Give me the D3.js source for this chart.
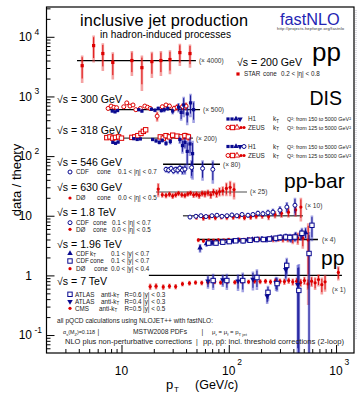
<!DOCTYPE html>
<html><head><meta charset="utf-8">
<script src="https://cdn.jsdelivr.net/npm/d3@7"></script>
<style>
body{margin:0;background:#fff}
svg{display:block}
text{font-family:"Liberation Sans",Arial,Helvetica,sans-serif;fill:#000}
</style>
</head><body>
<svg id="c" width="357" height="395"></svg>
<script>
// ---------------- data ----------------
const xMajor = [10, 100, 1000];
const xMajorExp = ["", "2", "3"];
const yMajor = [0.1, 1, 10, 100, 1000, 10000];
const yMajorExp = ["-1", "", "", "2", "3", "4"];

// reference lines (scale factors)
const lineLabels = ["(\u00d7 4000)", "(\u00d7 500)", "(\u00d7 200)", "(\u00d7 80)", "(\u00d7 25)", "(\u00d7 10)", "(\u00d7 4)", "(\u00d7 1)"];
const lineLevels = [4000, 600, 200, 73, 25, 10, 4, 1];
const lineFrom = [3.85, 7.33, 7.17, 24.4, 21, 37.4, 51.7, 18];
const lineTo = [49.4, 54, 46.4, 82.8, 148, 491, 678, 1135];
const lineLabelPt = [52.7, 57.5, 49.4, 88.3, 157.6, 513, 739, 916];
const lineLabelVal = [4000, 600, 200, 73, 25, 14.6, 4, 0.57];
const lineColors = ["#000", "#000", "#444", "#000", "#888", "#555", "#000", "#000"];

// STAR 200 GeV
const star_pt = [4.3, 5.5, 6.7, 8.3, 12.5, 15.5, 19.2, 23.3, 28.3, 35, 43.5];
const star_r  = [0.82, 1.78, 1.31, 0.93, 1.0, 0.76, 0.96, 1.0, 1.04, 1.36, 1.31];
const star_e  = [0.4, 0.85, 0.64, 0.45, 0.45, 0.45, 0.45, 0.45, 0.45, 0.55, 0.55];

// DIS 300 GeV
const dis300h1_pt = [8.2, 8.7, 9.2, 14.5, 15.5, 19, 20.5, 22, 23.5, 25, 27, 30, 34, 36, 38, 41, 44, 47];
const dis300h1_r  = [0.95, 0.92, 0.97, 1.0, 0.95, 1.02, 0.98, 1.05, 0.97, 1.0, 1.05, 0.95, 1.1, 0.9, 1.2, 0.85, 1.3, 1.0];
const dis300h1_e  = [0.05, 0.05, 0.06, 0.06, 0.06, 0.07, 0.07, 0.08, 0.08, 0.1, 0.1, 0.12, 0.2, 0.25, 0.45, 0.3, 0.55, 0.4];
const dis300zeus_pt = [7.5, 8.0, 8.5, 9.0, 10.5, 11.2, 12, 12.8, 13.6, 15, 16.5, 17.5, 18.5, 21.5, 24, 26, 28, 31, 33, 37, 40];
const dis300zeus_r  = [1.05, 1.15, 1.1, 1.08, 1.12, 1.3, 1.15, 1.2, 1.0, 1.05, 1.15, 1.1, 1.05, 0.78, 1.12, 1.2, 1.15, 1.05, 1.1, 1.12, 1.15];
const dis300zeus_e  = [0.06, 0.06, 0.06, 0.06, 0.07, 0.07, 0.07, 0.07, 0.08, 0.08, 0.08, 0.09, 0.09, 0.15, 0.1, 0.1, 0.12, 0.12, 0.14, 0.15, 0.18];

// DIS 318 GeV
const dis318h1_pt = [8.3, 8.8, 9.3, 13, 14, 15, 19.5, 21, 22.5, 24, 26, 28.5, 35, 37, 39, 41, 43.5, 46];
const dis318h1_r  = [0.85, 0.82, 0.86, 0.98, 0.95, 0.97, 0.95, 0.9, 0.85, 0.92, 0.82, 0.88, 0.95, 0.75, 0.85, 0.6, 0.8, 0.55];
const dis318h1_e  = [0.04, 0.04, 0.05, 0.05, 0.05, 0.05, 0.06, 0.06, 0.07, 0.08, 0.08, 0.1, 0.15, 0.2, 0.2, 0.3, 0.3, 0.35];
const dis318zeus_pt = [7.3, 7.8, 8.3, 8.8, 9.4, 10, 12.5, 13.3, 14.2, 15.2, 16, 16.8, 23, 24.5, 26, 28, 30, 33, 36, 39, 42];
const dis318zeus_r  = [1.02, 1.05, 1.0, 1.03, 1.05, 1.0, 1.03, 1.05, 1.1, 1.2, 1.3, 1.38, 1.05, 1.0, 1.1, 1.05, 1.12, 1.08, 1.05, 1.1, 1.05];
const dis318zeus_e  = [0.04, 0.04, 0.04, 0.04, 0.05, 0.05, 0.05, 0.05, 0.06, 0.06, 0.07, 0.07, 0.07, 0.08, 0.08, 0.09, 0.1, 0.1, 0.12, 0.14, 0.16];

// CDF 546 GeV
const cdf546_pt = [26, 27.5, 29, 30.5, 32, 33.5, 35, 37, 39, 45, 57, 71];
const cdf546_r  = [0.82, 0.8, 0.85, 0.78, 0.82, 0.8, 0.86, 0.8, 0.83, 0.88, 0.85, 0.82];
const cdf546_e  = [0.1, 0.1, 0.1, 0.1, 0.1, 0.12, 0.12, 0.14, 0.16, 0.3, 0.32, 0.35];

// D0 630 GeV
const d0630_pt = [22, 24, 26, 28, 30, 32, 34, 36.5, 39, 41.5, 44, 47, 50, 53, 56.5, 60, 64, 68, 72, 77, 82, 88, 95, 103, 112];
const d0630_r  = [1.12, 0.9, 0.88, 0.92, 0.86, 0.9, 0.95, 0.9, 0.88, 0.93, 0.96, 0.9, 0.92, 0.88, 0.95, 0.93, 0.97, 0.9, 1.0, 0.95, 1.02, 1.05, 1.15, 1.2, 1.1];
const d0630_e  = [0.3, 0.1, 0.1, 0.1, 0.1, 0.1, 0.1, 0.1, 0.1, 0.1, 0.1, 0.11, 0.11, 0.12, 0.12, 0.13, 0.13, 0.14, 0.15, 0.16, 0.18, 0.2, 0.3, 0.35, 0.35];

// 1.8 TeV
const cdf18_pt = [43.5, 49.4, 55, 61.3, 69.7, 77.6, 86.4, 96.2, 107, 119, 133, 151, 168, 187, 208, 232, 258, 300, 348, 414];
const cdf18_r  = [0.95, 0.98, 1.0, 0.97, 1.0, 1.02, 0.98, 1.0, 1.03, 1.0, 1.05, 1.02, 1.05, 1.1, 1.08, 1.12, 1.15, 1.24, 1.4, 1.5];
const cdf18_e  = [0.08, 0.08, 0.08, 0.08, 0.08, 0.08, 0.08, 0.08, 0.09, 0.09, 0.1, 0.1, 0.11, 0.12, 0.13, 0.15, 0.17, 0.22, 0.3, 0.5];
const d018_pt = [50, 58, 66, 75, 85, 96, 110, 125, 140, 160, 180, 205, 235, 270, 310, 360, 420, 470];
const d018_r  = [0.95, 0.92, 0.95, 0.93, 0.96, 0.94, 0.95, 0.97, 0.93, 0.95, 0.98, 1.0, 0.97, 1.05, 1.1, 1.15, 1.25, 1.4];
const d018_e  = [0.1, 0.1, 0.1, 0.1, 0.1, 0.1, 0.1, 0.1, 0.1, 0.1, 0.11, 0.12, 0.13, 0.15, 0.18, 0.22, 0.3, 0.6];

// 1.96 TeV
const cdfkt_pt = [54, 62, 70, 78, 88, 98, 110, 122, 136, 150, 166, 184, 204, 226, 250, 276, 305, 340, 380, 420, 470, 520];
const cdfkt_r  = [0.72, 0.85, 0.88, 0.9, 0.92, 0.93, 0.95, 0.97, 0.95, 0.98, 1.0, 1.0, 1.02, 1.0, 1.05, 1.03, 1.08, 1.1, 1.05, 1.15, 1.2, 1.3];
const cdfkt_e  = [0.12, 0.1, 0.1, 0.1, 0.1, 0.1, 0.1, 0.1, 0.1, 0.1, 0.1, 0.11, 0.11, 0.12, 0.12, 0.13, 0.14, 0.16, 0.18, 0.2, 0.25, 0.3];
const cdfcone_pt = [65, 76, 88, 101, 116, 136, 158, 182, 210, 240, 275, 300, 340, 371, 414, 481, 596];
const cdfcone_r  = [0.87, 0.87, 0.9, 0.92, 0.95, 0.95, 0.97, 1.0, 1.0, 1.02, 1.05, 1.08, 1.1, 1.08, 1.1, 1.27, 1.73];
const cdfcone_e  = [0.08, 0.08, 0.08, 0.08, 0.08, 0.09, 0.09, 0.1, 0.1, 0.11, 0.12, 0.13, 0.15, 0.17, 0.2, 0.3, 0.8];
const d0196_pt = [52, 58, 65, 72, 80, 90, 100, 112, 125, 140, 155, 172, 190, 210, 235, 260, 290, 320, 355, 395, 440, 490, 550];
const d0196_r  = [0.98, 0.95, 0.97, 0.96, 0.98, 0.97, 0.99, 0.98, 1.0, 0.99, 1.01, 1.0, 1.02, 1.0, 1.03, 1.01, 1.04, 1.02, 1.05, 1.03, 1.06, 1.05, 0.98];
const d0196_e  = [0.08, 0.08, 0.08, 0.08, 0.08, 0.08, 0.08, 0.08, 0.08, 0.08, 0.09, 0.09, 0.1, 0.1, 0.11, 0.12, 0.13, 0.14, 0.16, 0.2, 0.25, 0.35, 0.9];

// 7 TeV
const cms_pt = [18.5, 21, 24.5, 28, 32, 37, 43, 49, 56, 64, 74, 84, 97, 114, 133, 153, 174, 196, 220, 245, 272, 300, 330, 362, 395, 430, 468, 507, 548, 592, 638, 686, 737, 790, 1050];
const cms_r  = [0.65, 0.66, 0.64, 0.66, 0.65, 0.72, 0.74, 0.76, 0.75, 0.77, 0.78, 0.76, 0.78, 0.77, 0.79, 0.78, 0.8, 0.79, 0.8, 0.78, 0.81, 0.8, 0.79, 0.82, 0.78, 0.8, 0.76, 0.82, 0.72, 0.8, 0.75, 0.85, 0.7, 0.78, 1.12];
const cms_e  = [0.08, 0.08, 0.07, 0.07, 0.07, 0.07, 0.07, 0.07, 0.07, 0.07, 0.07, 0.07, 0.07, 0.07, 0.07, 0.07, 0.08, 0.08, 0.08, 0.08, 0.09, 0.09, 0.1, 0.1, 0.11, 0.12, 0.12, 0.13, 0.15, 0.16, 0.18, 0.2, 0.22, 0.25, 0.3];
const atlas6_pt = [71.5, 96, 135, 183, 232, 282, 347, 450, 560];
const atlas6_r  = [0.82, 0.82, 0.82, 0.92, 0.52, 0.73, 1.47, 0.56, 2.33];
const atlas6_e  = [0.25, 0.25, 0.3, 0.35, 0.15, 0.2, 0.5, 1.0, 3.0];
const atlas4_pt = [64, 88, 122, 168, 228, 276, 340, 440];
const atlas4_r  = [0.8, 0.84, 0.8, 0.86, 0.45, 0.75, 1.25, 0.7];
const atlas4_e  = [0.2, 0.2, 0.25, 0.3, 0.12, 0.2, 0.45, 0.8];

// ---------------- drawing ----------------
const W = 357, H = 395;
const L = 46.5, R = 354, T = 7, B = 353;
const x = d3.scaleLog().domain([2, 1470]).range([L, R]);
const y = d3.scaleLog().domain([0.05, 31600]).range([B, T]);

const red = "#dd0000", lred = "rgba(235,70,70,0.5)";
const blue = "#0a0a90", lblue = "rgba(70,70,200,0.5)";
const txtc = "#222";

const svg = d3.select("#c");
svg.append("rect").attr("width", W).attr("height", H).attr("fill", "#fff");
svg.append("defs").append("clipPath").attr("id", "clip")
  .append("rect").attr("x", L).attr("y", T).attr("width", R - L).attr("height", B - T);

// faint right-edge artifact line
svg.append("line").attr("x1", 356).attr("x2", 356).attr("y1", 10).attr("y2", 340)
  .attr("stroke", "#aab").attr("stroke-width", 0.8).attr("stroke-dasharray", "1,1");

const plot = svg.append("g").attr("clip-path", "url(#clip)");

// reference lines
lineLevels.forEach((lv, i) => {
  plot.append("line")
    .attr("x1", x(lineFrom[i])).attr("x2", x(lineTo[i]))
    .attr("y1", y(lv)).attr("y2", y(lv))
    .attr("stroke", lineColors[i]).attr("stroke-width", 1.3);
  svg.append("text").attr("x", x(lineLabelPt[i])).attr("y", y(lineLabelVal[i]) + 2.4)
    .attr("font-size", 6.6).style("fill", "#333").text(lineLabels[i]);
});

const series = [
  {pt: star_pt, r: star_r, e: star_e, lv: 4000, c: red, lc: lred, m: "fsq"},
  {pt: dis300zeus_pt, r: dis300zeus_r, e: dis300zeus_e, lv: 600, c: red, lc: lred, m: "circ"},
  {pt: dis300h1_pt, r: dis300h1_r, e: dis300h1_e, lv: 600, c: blue, lc: lblue, m: "fsq"},
  {pt: dis318zeus_pt, r: dis318zeus_r, e: dis318zeus_e, lv: 200, c: red, lc: lred, m: "sq"},
  {pt: dis318h1_pt, r: dis318h1_r, e: dis318h1_e, lv: 200, c: blue, lc: lblue, m: "fsq"},
  {pt: cdf546_pt, r: cdf546_r, e: cdf546_e, lv: 73, c: blue, lc: lblue, m: "circ"},
  {pt: d0630_pt, r: d0630_r, e: d0630_e, lv: 25, c: red, lc: lred, m: "dot"},
  {pt: d018_pt, r: d018_r, e: d018_e, lv: 10, c: red, lc: lred, m: "dot"},
  {pt: cdf18_pt, r: cdf18_r, e: cdf18_e, lv: 10, c: blue, lc: lblue, m: "circ"},
  {pt: d0196_pt, r: d0196_r, e: d0196_e, lv: 4, c: red, lc: lred, m: "dot"},
  {pt: cdfkt_pt, r: cdfkt_r, e: cdfkt_e, lv: 4, c: blue, lc: lblue, m: "tri"},
  {pt: cdfcone_pt, r: cdfcone_r, e: cdfcone_e, lv: 4, c: blue, lc: lblue, m: "sq"},
  {pt: cms_pt, r: cms_r, e: cms_e, lv: 1, c: red, lc: lred, m: "dot"},
  {pt: atlas4_pt, r: atlas4_r, e: atlas4_e, lv: 1, c: blue, lc: lblue, m: "trid"},
  {pt: atlas6_pt, r: atlas6_r, e: atlas6_e, lv: 1, c: blue, lc: lblue, m: "sq"}
];

function drawMarker(g, m, cx, cy, c) {
  if (m === "dot") g.append("circle").attr("cx", cx).attr("cy", cy).attr("r", 1.6).attr("fill", c);
  else if (m === "circ") g.append("circle").attr("cx", cx).attr("cy", cy).attr("r", 2).attr("fill", "#fff").attr("stroke", c).attr("stroke-width", 1);
  else if (m === "sq") g.append("rect").attr("x", cx - 2.2).attr("y", cy - 2.2).attr("width", 4.4).attr("height", 4.4).attr("fill", "#fff").attr("stroke", c).attr("stroke-width", 1);
  else if (m === "fsq") g.append("rect").attr("x", cx - 1.6).attr("y", cy - 1.6).attr("width", 3.2).attr("height", 3.2).attr("fill", c);
  else if (m === "tri") g.append("path").attr("transform", `translate(${cx},${cy})`).attr("d", d3.symbol(d3.symbolTriangle, 13)()).attr("fill", c);
  else if (m === "trid") g.append("path").attr("transform", `translate(${cx},${cy}) rotate(180)`).attr("d", d3.symbol(d3.symbolTriangle, 13)()).attr("fill", c);
  else if (m === "otri") g.append("path").attr("transform", `translate(${cx},${cy})`).attr("d", d3.symbol(d3.symbolTriangle, 13)()).attr("fill", "#fff").attr("stroke", c).attr("stroke-width", 0.9);
}

const yv = v => v <= 0 ? B + 20 : y(v);
series.forEach(s => {
  s.pt.forEach((p, i) => {
    plot.append("line").attr("x1", x(p)).attr("x2", x(p))
      .attr("y1", yv(s.lv * (s.r[i] - s.e[i]))).attr("y2", yv(s.lv * (s.r[i] + s.e[i])))
      .attr("stroke", s.lc).attr("stroke-width", 2.6);
  });
});
series.forEach(s => {
  s.pt.forEach((p, i) => {
    plot.append("line").attr("x1", x(p)).attr("x2", x(p))
      .attr("y1", yv(s.lv * (s.r[i] - s.e[i] * 0.8))).attr("y2", yv(s.lv * (s.r[i] + s.e[i] * 0.8)))
      .attr("stroke", s.c).attr("stroke-width", 0.9);
  });
  s.pt.forEach((p, i) => drawMarker(plot, s.m, x(p), y(s.lv * s.r[i]), s.c));
});

// axes
const xMinor = [3,4,5,6,7,8,9,20,30,40,50,60,70,80,90,200,300,400,500,600,700,800,900];
const yMinor = [0.06,0.07,0.08,0.09,0.2,0.3,0.4,0.5,0.6,0.7,0.8,0.9,2,3,4,5,6,7,8,9,20,30,40,50,60,70,80,90,200,300,400,500,600,700,800,900,2000,3000,4000,5000,6000,7000,8000,9000,20000,30000];
function styleAxis(g) { g.select(".domain").remove(); g.selectAll("line").attr("stroke", "#000").attr("stroke-width", 1); }
svg.append("g").attr("transform", `translate(${L},0)`).call(d3.axisLeft(y).tickValues(yMajor).tickSize(-8).tickFormat("")).call(styleAxis);
svg.append("g").attr("transform", `translate(${L},0)`).call(d3.axisLeft(y).tickValues(yMinor).tickSize(-4).tickFormat("")).call(styleAxis);
svg.append("g").attr("transform", `translate(0,${B})`).call(d3.axisBottom(x).tickValues(xMajor).tickSize(-8).tickFormat("")).call(styleAxis);
svg.append("g").attr("transform", `translate(0,${B})`).call(d3.axisBottom(x).tickValues(xMinor).tickSize(-4).tickFormat("")).call(styleAxis);
svg.append("rect").attr("x", L).attr("y", T).attr("width", R - L).attr("height", B - T)
  .attr("fill", "none").attr("stroke", "#000").attr("stroke-width", 1.2);

// tick labels
yMajor.forEach((v, i) => {
  svg.append("text").attr("x", 32).attr("y", y(v) + 4.3).attr("font-size", 12).attr("text-anchor", "end")
    .text(v === 1 ? "1" : "10");
  if (yMajorExp[i]) svg.append("text").attr("x", 34.5).attr("y", y(v) - 2).attr("font-size", 8.5).text(yMajorExp[i]);
});
xMajor.forEach((v, i) => {
  svg.append("text").attr("x", x(v)).attr("y", 375).attr("font-size", 12).attr("text-anchor", "middle").text("10");
  if (xMajorExp[i]) svg.append("text").attr("x", x(v) + 8.5).attr("y", 365).attr("font-size", 8.5).text(xMajorExp[i]);
});

// axis titles
svg.append("text").attr("x", 166).attr("y", 389).attr("font-size", 13).text("p");
svg.append("text").attr("x", 174).attr("y", 392).attr("font-size", 8).text("T");
svg.append("text").attr("x", 195).attr("y", 389).attr("font-size", 12.5).text("(GeV/c)");
svg.append("text").attr("transform", "translate(20.5,180) rotate(-90)").attr("font-size", 13)
  .attr("text-anchor", "middle").text("data / theory");

// header
svg.append("text").attr("x", 80).attr("y", 26).attr("font-size", 16.3).attr("textLength", 168).text("inclusive jet production");
svg.append("text").attr("x", 100).attr("y", 37.5).attr("font-size", 10.1).attr("textLength", 131).text("in hadron-induced processes");
svg.append("text").attr("x", 280).attr("y", 24.5).attr("font-size", 16.3).style("fill", "#2424b4").text("fastNLO");
svg.append("text").attr("x", 277).attr("y", 30).attr("font-size", 4.1).attr("textLength", 67).style("fill", "#333").text("http://projects.hepforge.org/fastnlo");

// big process labels
svg.append("text").attr("x", 312).attr("y", 60.5).attr("font-size", 26).text("pp");
svg.append("text").attr("x", 309.5).attr("y", 105).attr("font-size", 19.5).text("DIS");
svg.append("text").attr("x", 284).attr("y", 188).attr("font-size", 21).text("pp-bar");
svg.append("text").attr("x", 321).attr("y", 265).attr("font-size", 21).text("pp");

// energy labels
const energyText = ["\u221as = 200 GeV", "\u221as = 300 GeV", "\u221as = 318 GeV", "\u221as = 546 GeV", "\u221as = 630 GeV", "\u221as = 1.8 TeV", "\u221as = 1.96 TeV", "\u221as = 7 TeV"];
const energyX = [237, 57, 57, 57, 57, 57, 57, 57];
const energyY = [65.5, 102.5, 134, 166, 191, 216, 247.5, 285];
energyText.forEach((t, i) => svg.append("text").attr("x", energyX[i]).attr("y", energyY[i]).attr("font-size", 10.6).text(t));

// small legends
const fs = 6.3;
function legText(yy, parts) {
  parts.forEach(p => svg.append("text").attr("x", p[0]).attr("y", yy + 2.3).attr("font-size", fs).style("fill", txtc).text(p[1]));
}
function subText(xx, yy, main, sub) {
  const t = svg.append("text").attr("x", xx).attr("y", yy + 2.3).attr("font-size", fs).style("fill", txtc);
  t.append("tspan").text(main);
  t.append("tspan").attr("font-size", fs * 0.7).attr("dy", 1.5).text(sub);
}
// STAR
drawMarker(svg, "fsq", 238, 74, red);
legText(74, [[244, "STAR"], [263, "cone"], [281, "0.2 < |\u03b7| < 0.8"]]);

// DIS legends
function q2Text(xx, yy, lo) {
  svg.append("text").attr("x", xx).attr("y", yy + 2.3).attr("font-size", 5.5)
    .attr("textLength", 64).attr("lengthAdjust", "spacingAndGlyphs").style("fill", txtc)
    .text("Q\u00b2: from " + lo + " to 5000 GeV\u00b2");
}
const disRows = [119, 127.5, 146.5, 155.5];
[0, 2].forEach(k => {
  const yy = disRows[k];
  drawMarker(svg, "fsq", 228, yy, blue); drawMarker(svg, "fsq", 232, yy, blue);
  drawMarker(svg, "tri", 236, yy, blue); drawMarker(svg, "trid", 240, yy, blue);
  if (k === 2) drawMarker(svg, "circ", 244, yy, blue);
  legText(yy, [[248, "H1"]]); subText(273, yy, "k", "T"); q2Text(287, yy, "150");
});
[1, 3].forEach(k => {
  const yy = disRows[k];
  drawMarker(svg, "circ", 228, yy, red); drawMarker(svg, "sq", 232.5, yy, red);
  drawMarker(svg, "otri", 237, yy, red); drawMarker(svg, "dot", 241, yy, red); drawMarker(svg, "dot", 244, yy, red);
  legText(yy, [[248, "ZEUS"]]); subText(273, yy, "k", "T"); q2Text(287, yy, k === 1 ? "125" : "125 ");
});

// pp-bar legends
drawMarker(svg, "circ", 70, 172, blue);
legText(172, [[76, "CDF"], [97, "cone"], [118, "0.1 < |\u03b7| < 0.7"]]);
drawMarker(svg, "dot", 70, 198, red);
legText(198, [[76, "D\u00d8"], [97, "cone"], [118, "0.0 < |\u03b7| < 0.5"]]);
drawMarker(svg, "circ", 70, 222.7, blue);
legText(222.7, [[76, "CDF"], [93, "cone"], [112, "0.1 < |\u03b7| < 0.7"]]);
drawMarker(svg, "dot", 70, 229.3, red);
legText(229.3, [[76, "D\u00d8"], [93, "cone"], [112, "0.0 < |\u03b7| < 0.5"]]);
drawMarker(svg, "tri", 70, 253.3, blue);
legText(253.3, [[76, "CDF"], [111, "0.1 < |y| < 0.7"]]); subText(90, 253.3, "k", "T");
drawMarker(svg, "sq", 70, 261, blue);
legText(261, [[76, "CDF"], [90, "cone"], [111, "0.1 < |y| < 0.7"]]);
drawMarker(svg, "dot", 70, 268.7, red);
legText(268.7, [[76, "D\u00d8"], [94, "cone"], [111, "0.0 < |y| < 0.4"]]);
// 7 TeV
const r7 = [294.3, 301.5, 308.3];
drawMarker(svg, "sq", 70, r7[0], blue);
drawMarker(svg, "trid", 70, r7[1], blue);
drawMarker(svg, "dot", 70, r7[2], red);
[["ATLAS", "R=0.6", "|y| < 0.3"], ["ATLAS", "R=0.4", "|y| < 0.3"], ["CMS", "R=0.5", "|y| < 0.5"]].forEach((row, k) => {
  const yy = r7[k];
  legText(yy, [[75, row[0]], [124.5, row[1]], [143, row[2]]]);
  subText(k === 2 ? 99 : 101, yy, "anti-k", "T");
});

// footer notes
const fn = 6.7;
function note(xx, yy, txt, len) {
  const t = svg.append("text").attr("x", xx).attr("y", yy).attr("font-size", fn).style("fill", txtc).text(txt);
  if (len) t.attr("textLength", len).attr("lengthAdjust", "spacingAndGlyphs");
  return t;
}
note(57, 323, "all pQCD calculations using NLOJET++ with fastNLO:", 156);
{
  const t = svg.append("text").attr("x", 63).attr("y", 334).attr("font-size", 5.4).style("fill", txtc);
  t.append("tspan").text("\u03b1");
  t.append("tspan").attr("font-size", 4).attr("dy", 1.5).text("s");
  t.append("tspan").attr("dy", -1.5).text("(M");
  t.append("tspan").attr("font-size", 4).attr("dy", 1.5).text("Z");
  t.append("tspan").attr("dy", -1.5).text(")=0.118");
}
note(97.5, 334, "|");
note(133, 334, "MSTW2008 PDFs", 54);
note(201.5, 334, "|");
{
  const t = svg.append("text").attr("x", 212).attr("y", 334).attr("font-size", 6).style("fill", txtc);
  t.append("tspan").text("\u03bc");
  t.append("tspan").attr("font-size", 4.3).attr("dy", 1.5).text("r");
  t.append("tspan").attr("dy", -1.5).text(" = \u03bc");
  t.append("tspan").attr("font-size", 4.3).attr("dy", 1.5).text("f");
  t.append("tspan").attr("dy", -1.5).text(" = p");
  t.append("tspan").attr("font-size", 4.3).attr("dy", 1.5).text("T jet");
}
note(65, 344, "NLO plus non-perturbative corrections", 127);
note(196, 344, "|");
note(203, 344, "pp, p\u0070\u0304: incl. threshold corrections (2-loop)", 141);
</script>
</body></html>
